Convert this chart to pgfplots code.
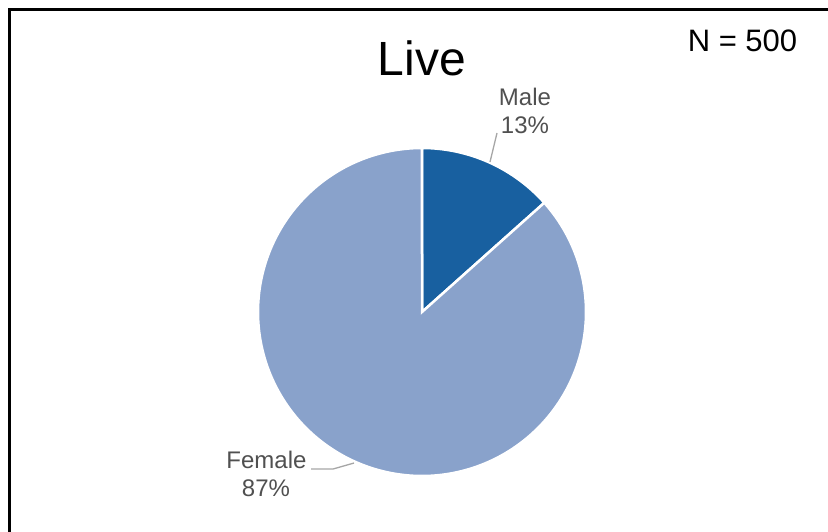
\documentclass[border=0pt]{standalone}
\usepackage{pgfplots}
\usepackage{pgfplotstable}
\pgfplotsset{compat=1.18}
\usepackage{fontspec}
\setmainfont{Liberation Sans}
\definecolor{maleblue}{RGB}{24,96,160}
\definecolor{femaleblue}{RGB}{137,162,203}
\definecolor{labelgrey}{RGB}{80,80,80}
\definecolor{leadergrey}{RGB}{166,166,166}
\pgfplotstableread{
label value
Male 67
Female 433
}\piedata
\pgfplotstablegetelem{0}{value}\of\piedata \let\valMale\pgfplotsretval
\pgfplotstablegetelem{1}{value}\of\piedata \let\valFemale\pgfplotsretval
\pgfmathsetmacro{\total}{\valMale+\valFemale}
\pgfmathsetmacro{\aStart}{90}
\pgfmathsetmacro{\aMid}{90-360*(\valMale/\total)}
\pgfmathsetmacro{\aEnd}{\aMid-360*(\valFemale/\total)}
\begin{document}
\begin{tikzpicture}
\begin{axis}[
  scale only axis, width=828bp, height=532bp,
  xmin=0, xmax=828, ymin=0, ymax=532, y dir=reverse,
  hide axis, clip=false,
]
% frame
\draw[line width=3bp, black] (axis cs:9.5,560) -- (axis cs:9.5,9.5) -- (axis cs:860,9.5);
% pie slices
\addplot[fill=maleblue, draw=white, line width=2.5bp, domain=\aStart:\aMid, samples=60]
  ({422+164*cos(x)}, {312-164*sin(x)}) -- (axis cs:422,312) -- cycle;
\addplot[fill=femaleblue, draw=white, line width=2.5bp, domain=\aMid:\aEnd, samples=200]
  ({422+164*cos(x)}, {312-164*sin(x)}) -- (axis cs:422,312) -- cycle;
% leader lines
\draw[leadergrey, line width=1.3bp] (axis cs:497,133) -- (axis cs:490,162);
\draw[leadergrey, line width=1.3bp] (axis cs:311,469) -- (axis cs:333,469) -- (axis cs:354,463);
% texts
\node[anchor=base, font=\fontsize{48bp}{52bp}\selectfont, inner sep=0pt] at (axis cs:422,76) {Live};
\node[anchor=base, font=\fontsize{31bp}{34bp}\selectfont, inner sep=0pt] at (axis cs:742.5,52) {N = 500};
\node[anchor=base, text=labelgrey, font=\fontsize{24bp}{28bp}\selectfont, inner sep=0pt] at (axis cs:525,105) {Male};
\node[anchor=base, text=labelgrey, font=\fontsize{24bp}{28bp}\selectfont, inner sep=0pt] at (axis cs:525,133) {13\%};
\node[anchor=base, text=labelgrey, font=\fontsize{24bp}{28bp}\selectfont, inner sep=0pt] at (axis cs:266.5,468) {Female};
\node[anchor=base, text=labelgrey, font=\fontsize{24bp}{28bp}\selectfont, inner sep=0pt] at (axis cs:266,496) {87\%};
\end{axis}
\pgfresetboundingbox
\path[use as bounding box] (current axis.south west) rectangle (current axis.north east);
\end{tikzpicture}
\end{document}
